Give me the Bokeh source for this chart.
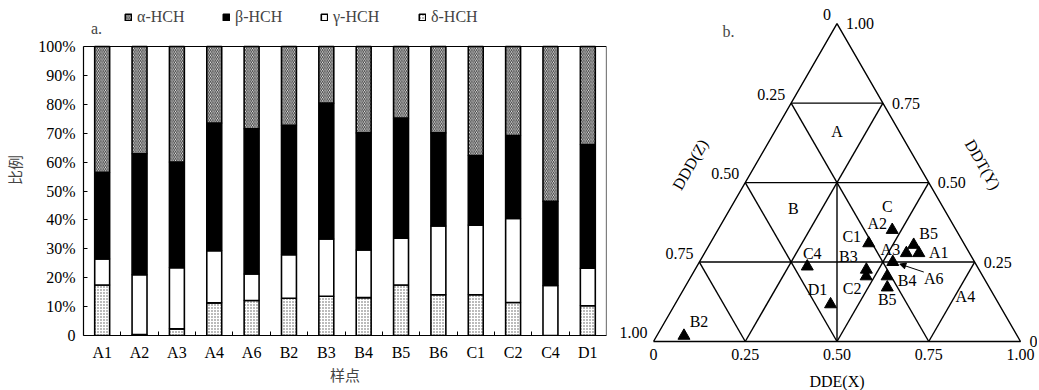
import numpy as np
from bokeh.plotting import figure
from bokeh.layouts import row
from bokeh.models import (Range1d, FixedTicker, PrintfTickFormatter, Legend, LegendItem,
                          ColumnDataSource, Label, Arrow, NormalHead)
from bokeh.core.properties import value
from bokeh.embed import file_html
from bokeh.resources import INLINE

# ---------------- data: panel a ----------------
samples = ["A1", "A2", "A3", "A4", "A6", "B2", "B3", "B4", "B5", "B6", "C1", "C2", "C4", "D1"]
delta_hch = [17.5, 0.3, 2.3, 11.3, 12.1, 12.9, 13.6, 13.1, 17.5, 14.1, 14.1, 11.4, 0.0, 10.3]
gamma_hch = [9.0, 20.7, 21.2, 18.0, 9.2, 15.1, 19.8, 16.5, 16.2, 23.8, 24.1, 29.1, 17.3, 13.0]
beta_hch = [30.0, 41.9, 36.5, 44.2, 50.2, 44.7, 47.0, 40.5, 41.5, 32.2, 24.1, 28.7, 29.1, 42.8]
alpha_hch = [43.5, 37.1, 40.0, 26.5, 28.5, 27.3, 19.6, 29.9, 24.8, 29.9, 37.7, 30.8, 53.6, 33.9]
y_ticks = [0, 10, 20, 30, 40, 50, 60, 70, 80, 90, 100]
legend_names = ["α-HCH", "β-HCH", "γ-HCH", "δ-HCH"]

# ---------------- data: panel b (ternary) ----------------
pt_names = ["B2", "C4", "D1", "B3", "C2", "C1", "A2", "A3", "B5", "A1", "A6", "B4", "B5"]
dde_x = [0.074, 0.301, 0.424, 0.467, 0.477, 0.432, 0.475, 0.550, 0.557, 0.584, 0.527, 0.534, 0.552]
ddt_y = [0.018, 0.236, 0.117, 0.226, 0.205, 0.309, 0.351, 0.278, 0.304, 0.278, 0.250, 0.205, 0.170]
# label offsets (screen px, y downward) for each point label
lab_dx = [15, 5, -13, -18, -14, -17, -15, -16, 15, 20, 41, 20, 0]
lab_dy = [-14, -13, -15, -13, 12, -7, -6, -4, -11, -1, 16, 4, 12]
tern_ticks = [0.25, 0.50, 0.75]
tick_labels = ["0", "0.25", "0.50", "0.75", "1.00"]
tick_vals = [0.0, 0.25, 0.50, 0.75, 1.00]
region_names = ["A", "B", "C", "A4"]
region_x = [0.17, 0.172, 0.425, 0.779]
region_y = [0.66, 0.4185, 0.4248, 0.1416]

SERIF = "Liberation Serif"
CJK = "Noto Sans CJK SC"

# ================= panel a =================
n = len(samples)
xs = np.arange(n)
FH = 331          # frame height (px)
PX100 = 289       # px from 0 to 100 %
ytop = 100 * FH / PX100
p1 = figure(frame_width=523, frame_height=FH, x_range=Range1d(-0.5, n - 0.5), y_range=Range1d(0, ytop),
            output_backend="svg", toolbar_location=None, title=None,
            min_border_left=83, min_border_right=6, min_border_top=4, min_border_bottom=55)
p1.grid.visible = False
p1.outline_line_color = None

d = np.array(delta_hch); g = np.array(gamma_hch); b = np.array(beta_hch); a = np.array(alpha_hch)
b0 = np.zeros(n); b1 = d; b2 = d + g; b3 = d + g + b; b4 = b3 + a
common = dict(width=0.4, line_color="black", line_width=1.6)
r_d = p1.vbar(x=xs, bottom=b0, top=b1, fill_color="white", hatch_pattern=".", hatch_color="#555555",
              hatch_scale=3, hatch_weight=1, **common)
r_g = p1.vbar(x=xs, bottom=b1, top=b2, fill_color="white", **common)
r_b = p1.vbar(x=xs, bottom=b2, top=b3, fill_color="black", **common)
r_a = p1.vbar(x=xs, bottom=b3, top=b4, fill_color="white", hatch_pattern="\\", hatch_color="#333333",
              hatch_scale=3.5, hatch_weight=1, **common)

# frame box (top and right edges of the 0-100 % plot area)
p1.segment(x0=[-0.5, n - 0.5], y0=[100, 0], x1=[n - 0.5, n - 0.5], y1=[100, 100],
           line_color="black", line_width=1.2)

xa = p1.xaxis[0]
xa.ticker = FixedTicker(ticks=list(xs), minor_ticks=[i + 0.5 for i in range(n - 1)])
xa.major_label_overrides = {int(i): s for i, s in zip(xs, samples)}
xa.major_tick_in = 0; xa.major_tick_out = 0
xa.minor_tick_in = 4; xa.minor_tick_out = 0
xa.major_label_standoff = 8
xa.major_label_text_font = SERIF
xa.major_label_text_font_size = "16px"
xa.major_label_text_color = "black"
xa.axis_line_color = "black"
xa.axis_line_width = 1.2
xa.axis_label = "样点"
xa.axis_label_text_font = CJK
xa.axis_label_text_font_size = "15px"
xa.axis_label_text_font_style = "normal"
xa.axis_label_standoff = 0

ya = p1.yaxis[0]
ya.ticker = FixedTicker(ticks=y_ticks)
ya.bounds = (0, 100)
ya.formatter = PrintfTickFormatter(format="%d%%")
ya.major_label_overrides = {0: "0"}
ya.major_tick_in = 4; ya.major_tick_out = 0
ya.minor_tick_in = 0; ya.minor_tick_out = 0
ya.major_label_standoff = 8
ya.major_label_text_font = SERIF
ya.major_label_text_font_size = "16px"
ya.major_label_text_color = "black"
ya.axis_line_color = "black"
ya.axis_line_width = 1.2
ya.axis_label = "比例"
ya.axis_label_text_font = CJK
ya.axis_label_text_font_size = "15px"
ya.axis_label_text_font_style = "normal"
ya.axis_label_standoff = 10

legend = Legend(items=[LegendItem(label=legend_names[0], renderers=[r_a]),
                       LegendItem(label=legend_names[1], renderers=[r_b]),
                       LegendItem(label=legend_names[2], renderers=[r_g]),
                       LegendItem(label=legend_names[3], renderers=[r_d])],
                orientation="horizontal", location=(41, FH - 22),
                glyph_width=8, glyph_height=8, label_standoff=5, label_width=85, spacing=0,
                padding=0, margin=0, border_line_color=None, background_fill_alpha=0,
                label_text_font=SERIF, label_text_font_size="16px", label_height=18)
p1.add_layout(legend, "center")
p1.add_layout(Label(x=-0.3, y=106.2, text="a.", text_font=SERIF, text_font_size="16px",
                    text_baseline="middle", text_align="left"))

# ================= panel b =================
H = np.sqrt(3) / 2
S = 367.0  # px per unit side
W2, H2 = 425, 390
x_left = -41 / S
y_top = 337 / S
p2 = figure(frame_width=W2, frame_height=H2, x_range=Range1d(x_left, x_left + W2 / S),
            y_range=Range1d(y_top - H2 / S, y_top), title=None,
            output_backend="svg", toolbar_location=None, min_border=0,
            x_axis_location=None, y_axis_location=None)
p2.grid.visible = False
p2.outline_line_color = None


def cart(X, Y):
    X = np.asarray(X, dtype=float); Y = np.asarray(Y, dtype=float)
    return X + Y / 2, Y * H


# outer triangle
tx, ty = cart([0, 1, 0, 0], [0, 0, 1, 0])
p2.line(tx, ty, line_color="black", line_width=1.4)
# grid lines
xs0, ys0, xs1, ys1 = [], [], [], []
for t in tern_ticks:
    for (X0, Y0, X1, Y1) in [(t, 0, t, 1 - t), (0, t, 1 - t, t), (1 - t, 0, 0, 1 - t)]:
        c0 = cart(X0, Y0); c1 = cart(X1, Y1)
        xs0.append(float(c0[0])); ys0.append(float(c0[1])); xs1.append(float(c1[0])); ys1.append(float(c1[1]))
c0 = cart(0.5, 0); c1 = cart(0.25, 0.5)
xs0.append(float(c0[0])); ys0.append(float(c0[1])); xs1.append(float(c1[0])); ys1.append(float(c1[1]))
p2.segment(xs0, ys0, xs1, ys1, line_color="black", line_width=1.4)

# points
px, py = cart(dde_x, ddt_y)
src = ColumnDataSource(dict(x=px, y=py, name=pt_names, dx=lab_dx, dy=lab_dy))
p2.scatter("x", "y", source=src, marker="triangle", size=12, fill_color="black", line_color="black")
p2.text("x", "y", text="name", source=src, x_offset="dx", y_offset="dy",
        text_font=value(SERIF), text_font_size="16px", text_align="center", text_baseline="middle")
# arrow for A6
i6 = pt_names.index("A6")
p2.add_layout(Arrow(end=NormalHead(size=6, fill_color="black", line_color="black"),
                    x_start=px[i6] + 31 / S, y_start=py[i6] - 10 / S,
                    x_end=px[i6] + 7 / S, y_end=py[i6] - 2 / S, line_width=1, line_color="black"))

# region labels
rx, ry = cart(region_x, region_y)
p2.text(rx, ry, text=region_names, text_font=value(SERIF), text_font_size="16px",
        text_align="center", text_baseline="middle")

# tick labels
bx, by = cart(tick_vals, [0] * 5)
p2.text(bx, by, text=tick_labels, y_offset=7, text_font=value(SERIF), text_font_size="16px",
        text_align="center", text_baseline="top")
# right side (DDT Y): point with Y=t, X=1-t
rtx, rty = cart([1 - t for t in tick_vals], tick_vals)
p2.text(rtx, rty, text=tick_labels, x_offset=9, y_offset=0, text_font=value(SERIF), text_font_size="16px",
        text_align="left", text_baseline="middle")
# left side (DDD Z): point with Z=t, X=0, Y=1-t
ltx, lty = cart([0] * 5, [1 - t for t in tick_vals])
p2.text(ltx, lty, text=tick_labels, x_offset=-6, y_offset=-9, text_font=value(SERIF), text_font_size="16px",
        text_align="right", text_baseline="middle")

# axis titles
mx, my = cart(0.5, 0)
p2.text([float(mx)], [float(my)], text=["DDE(X)"], y_offset=40, text_font=value(SERIF),
        text_font_size="16px", text_align="center", text_baseline="middle")
lx, ly = cart(0, 0.5)
p2.text([float(lx)], [float(ly)], text=["DDD(Z)"], x_offset=-55, y_offset=-18, angle=np.pi / 3,
        text_font=value(SERIF), text_font_size="16px", text_align="center", text_baseline="middle")
rx2, ry2 = cart(0.5, 0.5)
p2.text([float(rx2)], [float(ry2)], text=["DDT(Y)"], x_offset=54, y_offset=-18, angle=-np.pi / 3,
        text_font=value(SERIF), text_font_size="16px", text_align="center", text_baseline="middle")
p2.add_layout(Label(x=0.188, y=0.845, text="b.", text_font=SERIF, text_font_size="16px",
                    text_baseline="middle", text_align="left"))

layout = row(p1, p2)
open("out.html", "w").write(file_html(layout, INLINE))
